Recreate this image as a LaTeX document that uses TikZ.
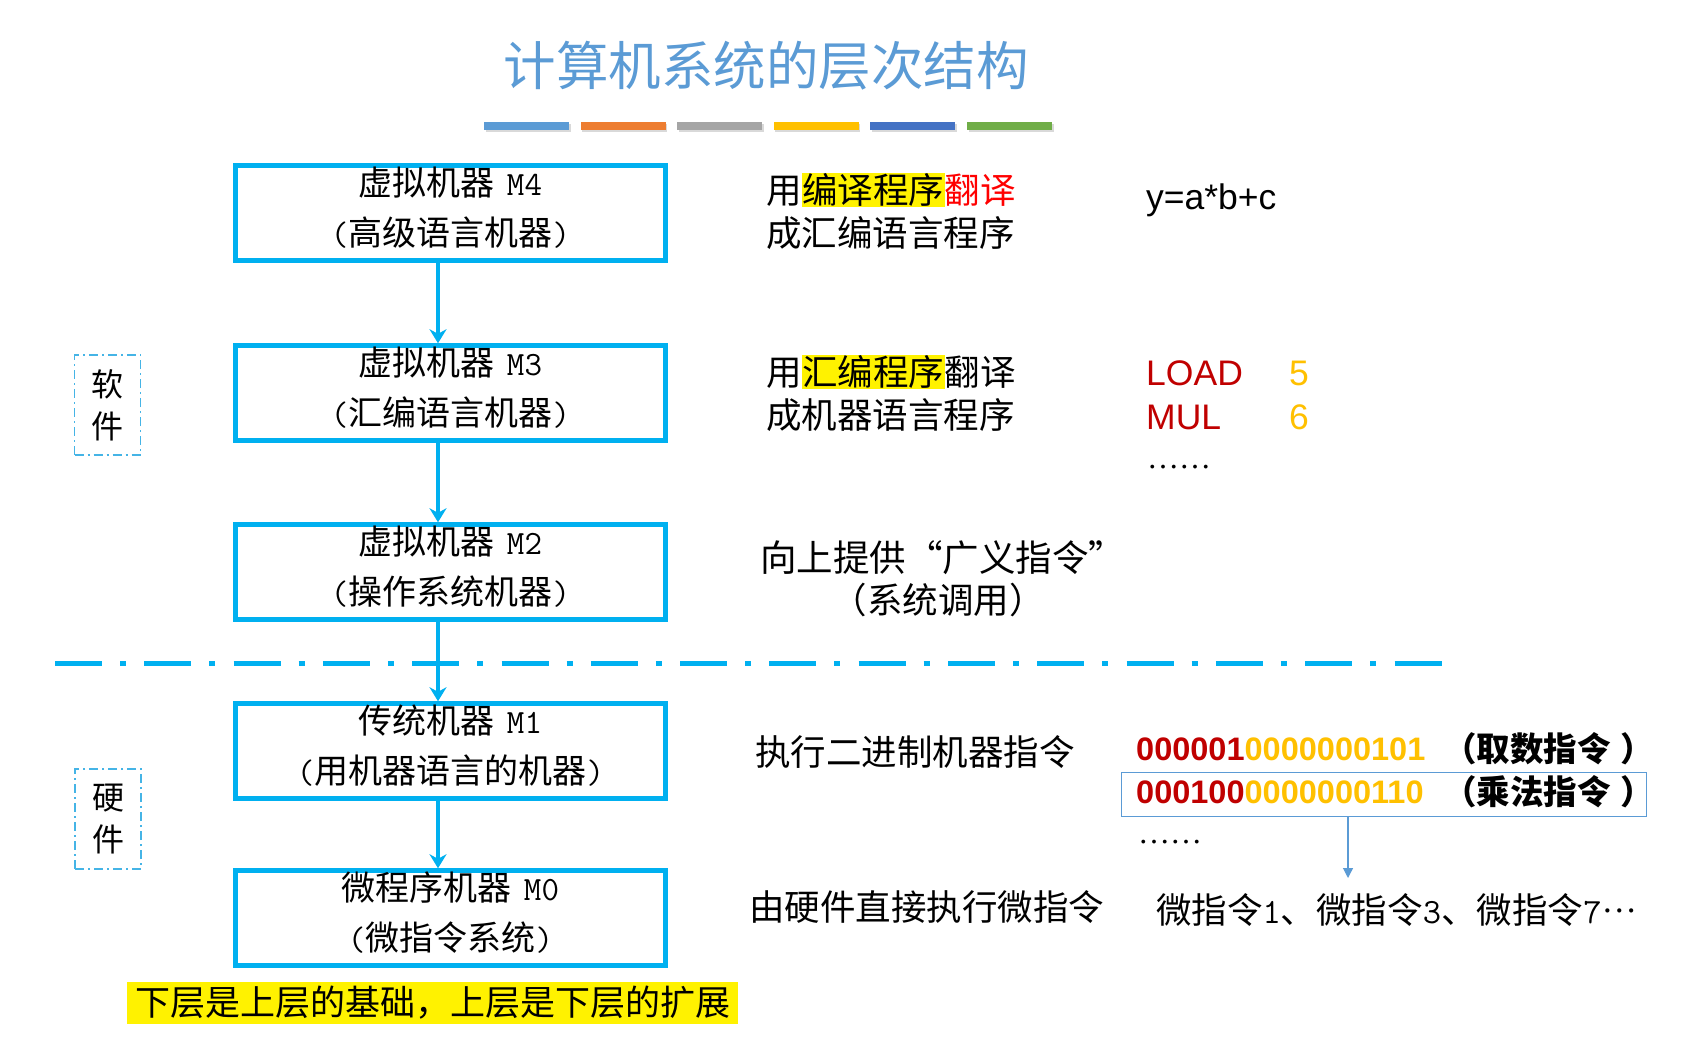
\documentclass[tikz,border=0pt]{standalone}
\usepackage{fontspec}
\setmainfont{Noto Sans CJK SC}
\newfontfamily\arialfont{Liberation Sans}
\newfontfamily\timesfont{Liberation Serif}
\usetikzlibrary{arrows.meta}
\definecolor{BoxCyan}{HTML}{00B0F0}
\definecolor{SideBlue}{HTML}{45B4E6}
\definecolor{TitleBlue}{HTML}{5B9BD5}
\definecolor{LineBlue}{HTML}{5B9BD5}
\definecolor{DarkRed}{HTML}{C00000}
\definecolor{Gold}{HTML}{FFC000}
\definecolor{BarA}{HTML}{5B9BD5}
\definecolor{BarB}{HTML}{ED7D31}
\definecolor{BarC}{HTML}{A5A5A5}
\definecolor{BarD}{HTML}{FFC000}
\definecolor{BarE}{HTML}{4472C4}
\definecolor{BarF}{HTML}{70AD47}
\newcommand{\hlt}[1]{{\setlength{\fboxsep}{0.5pt}\colorbox{yellow}{#1}}}
\newcommand{\cnlq}{\makebox[1em][r]{“}}
\newcommand{\cnrq}{\makebox[1em][l]{”}}
\newcommand{\cnlp}{\makebox[1em][r]{（}}
\newcommand{\cnrp}{\makebox[1em][l]{）}}
\newcommand{\lowpad}{\rule[-14pt]{0pt}{14pt}}
\tikzset{
  machine/.style={draw=BoxCyan, line width=4.5pt, minimum width=430pt, minimum height=95pt,
    inner sep=0pt, align=center, font=\fontsize{34}{50}\selectfont},
  flow/.style={BoxCyan, line width=4pt, -{Stealth[length=14pt,width=17pt]}},
  thinflow/.style={LineBlue, line width=1.2pt, -{Triangle[length=10pt,width=10pt]}},
  side/.style={draw=SideBlue, line width=1.5pt, dash pattern=on 9pt off 4pt on 2pt off 4pt,
    minimum width=66pt, minimum height=100pt, align=center, font=\fontsize{32}{42}\selectfont},
  note/.style={anchor=west, align=left, inner sep=0pt, font=\fontsize{35.5}{43}\selectfont},
  code/.style={anchor=west, inner sep=0pt, font=\arialfont\fontsize{35.5}{42}\selectfont},
  bin/.style={anchor=west, inner sep=0pt, font=\arialfont\bfseries\fontsize{32.5}{40}\selectfont},
  dots/.style={anchor=west, inner sep=0pt, font=\timesfont\fontsize{32}{40}\selectfont},
  opname/.style={anchor=west, inner sep=0pt, font=\bfseries\fontsize{33.5}{40}\selectfont},
}
\begin{document}
\begin{tikzpicture}[x=1pt, y=-1pt]
\useasboundingbox[fill=white] (0,0) rectangle (1691,1043);
% 标题和色条
\node[TitleBlue, font=\fontsize{52.5}{60}\selectfont] (title) at (766,66) {计算机系统的层次结构};
\foreach \c [count=\i from 0] in {BarA,BarB,BarC,BarD,BarE,BarF}{
  \fill[black!15] ({485.5+96.6*\i},124) rectangle +(85,8.5);
  \fill[\c] ({484+96.6*\i},122) rectangle +(85,8.5);
}
% 各层机器
\node[machine] (m4) at (450.5,213) {虚拟机器\hspace{12pt}{\ttfamily M4}\\{\ttfamily(}高级语言机器{\ttfamily)}\lowpad};
\node[machine] (m3) at (450.5,393) {虚拟机器\hspace{12pt}{\ttfamily M3}\\{\ttfamily(}汇编语言机器{\ttfamily)}\lowpad};
\node[machine] (m2) at (450.5,572) {虚拟机器\hspace{12pt}{\ttfamily M2}\\{\ttfamily(}操作系统机器{\ttfamily)}\lowpad};
\node[machine] (m1) at (450.5,751) {传统机器\hspace{12pt}{\ttfamily M1}\\{\ttfamily(}用机器语言的机器{\ttfamily)}\lowpad};
\node[machine] (m0) at (450.5,918) {微程序机器\hspace{12pt}{\ttfamily M0}\\{\ttfamily(}微指令系统{\ttfamily)}\lowpad};
\draw[BoxCyan, line width=5pt, dash pattern=on 47pt off 18pt on 6pt off 18.3pt] (55,663) -- (1447,663);
\foreach \a/\b in {m4/m3,m3/m2,m2/m1,m1/m0}
  \draw[flow] ([xshift=-12.5pt]\a.south) -- ([xshift=-12.5pt]\b.north);
\node[side] (soft) at (107.5,405) {软\\件};
\node[side] (hard) at (108,819) {硬\\件};
% 右侧说明
\node[note] (n4) at (766,211.5) {用\hlt{编译程序}\textcolor{red}{翻译}\\成汇编语言程序};
\node[note] (n3) at (766,393.5) {用\hlt{汇编程序}翻译\\成机器语言程序};
\node[note, font=\fontsize{36.5}{43}\selectfont] (n2) at (760,557.5) {向上提供\cnlq 广义指令\cnrq};
\node[note, anchor=center] (n2b) at (938,600) {\cnlp 系统调用\cnrp};
\node[note] (n1) at (755,752) {执行二进制机器指令};
\node[note] (n0) at (749,907) {由硬件直接执行微指令};
\node[code] (expr) at (1146,200) {y=a*b+c};
\node[code, DarkRed] (load) at (1146,373) {LOAD};
\node[code, Gold] (five) at (1289,373) {5};
\node[code, DarkRed] (mul) at (1146,417) {MUL};
\node[code, Gold] (six) at (1289,417) {6};
\node[dots] (more3) at (1147,467) {……};
\node[bin] (ldbits) at (1136,749) {\textcolor{DarkRed}{000001}\textcolor{Gold}{0000000101}};
\node[opname] (ldname) at (1443,749) {（取数指令\hspace{0.3em}）};
\node[bin] (mlbits) at (1136,792) {\textcolor{DarkRed}{000100}\textcolor{Gold}{0000000110}};
\node[opname] (mlname) at (1443,792) {（乘法指令\hspace{0.3em}）};
\node[draw=LineBlue, line width=1.3pt, minimum width=525pt, minimum height=44pt, inner sep=0pt] (sel) at (1384,794.5) {};
\node[dots] (more1) at (1138,842) {……};
\coordinate (mtip) at (1348,878);
\draw[thinflow] (sel.south -| mtip) -- (mtip);
\node[note] (micro) at (1156,910) {微指令{\ttfamily 1}、微指令{\ttfamily 3}、微指令{\ttfamily 7}\raisebox{0.3em}{\timesfont …}};
% 底部结论
\node[fill=yellow, minimum width=611pt, minimum height=42pt, inner sep=0pt,
  font=\fontsize{35}{42}\selectfont] (basis) at (432.5,1003) {下层是上层的基础，上层是下层的扩展};
\end{tikzpicture}
\end{document}
